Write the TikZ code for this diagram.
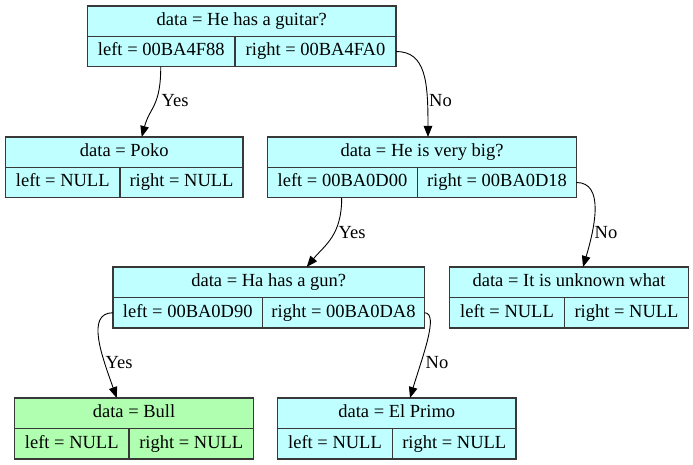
\documentclass[tikz,border=0pt]{standalone}
\usepackage{fontspec}
\setmainfont{Liberation Serif}
\usetikzlibrary{arrows.meta,calc}
\definecolor{cyanfill}{HTML}{BFFFFF}
\definecolor{greenfill}{HTML}{B0FFB0}
\definecolor{borderc}{HTML}{383838}
\tikzset{
  cell/.style={draw=borderc, line width=1.2pt, inner sep=0pt, outer sep=0pt, fill=cyanfill,
    font=\fontsize{18.5}{20}\selectfont, text height=12.5pt, text depth=4pt},
  gcell/.style={cell, fill=greenfill},
  toprow/.style={minimum height=30.5pt},
  botrow/.style={minimum height=30.5pt},
  edge/.style={draw=black, line width=0.9pt, -{Triangle[length=11pt,width=8.5pt]}},
  elabel/.style={anchor=west, inner sep=0pt, font=\fontsize{18.5}{20}\selectfont}
}
\begin{document}
\begin{tikzpicture}[x=1pt,y=-1pt]
\useasboundingbox (0,0) rectangle (693,465);
% root
\node[cell,toprow,minimum width=308.5pt] (root) at (241.75,21.25) {data = He has a guitar?};
\node[cell,botrow,minimum width=147.5pt] (rootL) at (161.25,51.5) {left = 00BA4F88};
\node[cell,botrow,minimum width=161pt] (rootR) at (315.5,51.5) {right = 00BA4FA0};
% poko
\node[cell,toprow,minimum width=237.5pt] (poko) at (124.25,152.25) {data = Poko};
\node[cell,botrow,minimum width=114.5pt] (pokoL) at (62.75,182.5) {left = NULL};
\node[cell,botrow,minimum width=123pt] (pokoR) at (181.5,182.5) {right = NULL};
% big
\node[cell,toprow,minimum width=309pt] (big) at (422,152.25) {data = He is very big?};
\node[cell,botrow,minimum width=150pt] (bigL) at (342.5,182.5) {left = 00BA0D00};
\node[cell,botrow,minimum width=159pt] (bigR) at (497,182.5) {right = 00BA0D18};
% gun
\node[cell,toprow,minimum width=311.5pt] (gun) at (268.75,282.25) {data = Ha has a gun?};
\node[cell,botrow,minimum width=149.5pt] (gunL) at (187.75,312.75) {left = 00BA0D90};
\node[cell,botrow,minimum width=162pt] (gunR) at (343.5,312.75) {right = 00BA0DA8};
% unknown
\node[cell,toprow,minimum width=239pt] (unk) at (569,282.25) {data = It is unknown what};
\node[cell,botrow,minimum width=115pt] (unkL) at (507,312.75) {left = NULL};
\node[cell,botrow,minimum width=124pt] (unkR) at (626.5,312.75) {right = NULL};
% bull
\node[gcell,toprow,minimum width=239pt] (bull) at (134,413.25) {data = Bull};
\node[gcell,botrow,minimum width=114.5pt] (bullL) at (71.75,443.75) {left = NULL};
\node[gcell,botrow,minimum width=124.5pt] (bullR) at (191.25,443.75) {right = NULL};
% primo
\node[cell,toprow,minimum width=238.5pt] (primo) at (396.75,413.25) {data = El Primo};
\node[cell,botrow,minimum width=115pt] (primoL) at (335,443.75) {left = NULL};
\node[cell,botrow,minimum width=123.5pt] (primoR) at (454.25,443.75) {right = NULL};
% edges
\coordinate (pokoIn) at ($(poko.north)+(17.5,0)$);
\draw[edge] ($(rootL.south)+(-0.5,0)$) .. controls +(0,40) and +(8,-30) .. (pokoIn);
\node[elabel] (lab1) at (161.5,101) {Yes};
\coordinate (bigIn) at ($(big.north)+(6,0)$);
\draw[edge] (rootR.east) .. controls +(30,0) and +(0,-55) .. (bigIn);
\node[elabel] (lab2) at (429,101) {No};
\coordinate (gunIn) at ($(gun.north)+(38,0)$);
\draw[edge] ($(bigL.south)+(-0.8,0)$) .. controls +(0,38) and +(18,-22) .. (gunIn);
\node[elabel] (lab3) at (338.5,233) {Yes};
\coordinate (unkIn) at ($(unk.north)+(14,0)$);
\draw[edge] (bigR.east) .. controls +(28,0) and +(12,-40) .. (unkIn);
\node[elabel] (lab4) at (594.5,233) {No};
\coordinate (bullIn) at ($(bull.north)+(-17.3,0)$);
\draw[edge] (gunL.west) .. controls +(-28,0) and +(-14,-40) .. (bullIn);
\node[elabel] (lab5) at (105.5,363) {Yes};
\coordinate (primoIn) at ($(primo.north)+(13.25,0)$);
\draw[edge] (gunR.east) .. controls +(15,0) and +(12,-40) .. (primoIn);
\node[elabel] (lab6) at (425.5,363) {No};
\end{tikzpicture}
\end{document}
